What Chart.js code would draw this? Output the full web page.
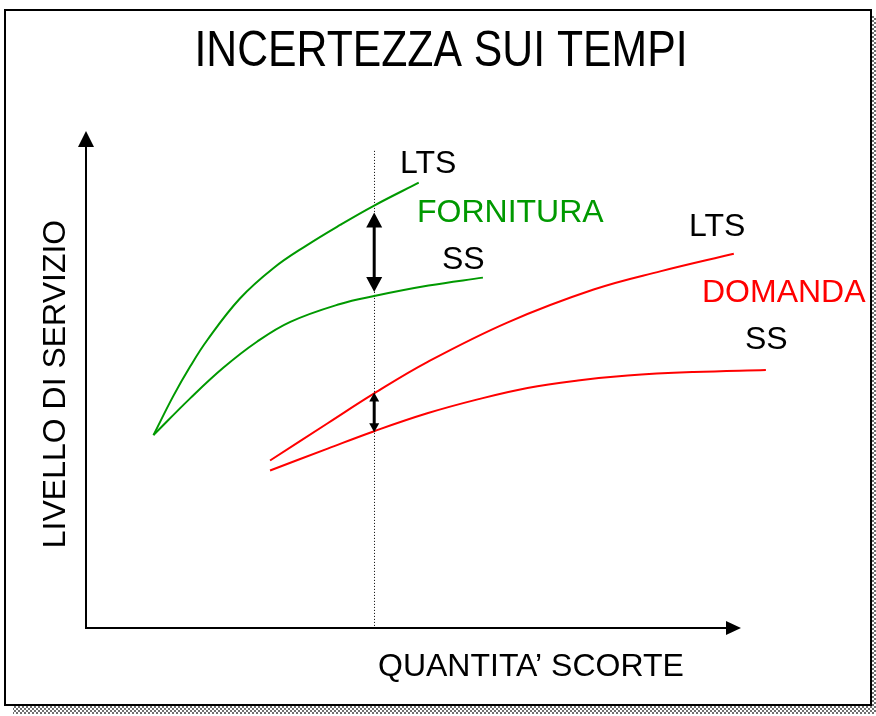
<!DOCTYPE html>
<html>
<head>
<meta charset="utf-8">
<title>Incertezza sui tempi</title>
<script src="https://cdn.jsdelivr.net/npm/chart.js@4.4.1/dist/chart.umd.min.js"></script>
<style>
    html, body { margin: 0; padding: 0; background: #fff; }
    #wrap { width: 876px; height: 716px; }
</style>
</head>
<body>
<div id="wrap"><canvas id="chart" width="876" height="716"></canvas></div>
<script>
// quantita' scorte (x) e livello di servizio (y), unita' arbitrarie 0-100
const fornituraLtsX = [10.3, 13.3, 15.9, 18.5, 23.5, 28.6, 33.7, 38.8, 44, 50.8];
const fornituraLtsY = [38.8, 46.6, 52.6, 57.9, 66.3, 72.4, 77.0, 81.1, 85.0, 89.6];

const fornituraSsX = [10.3, 15.9, 21.0, 26.1, 31.2, 38.8, 44, 52.3, 60.6];
const fornituraSsY = [38.8, 46.2, 52.4, 57.6, 61.6, 65.2, 66.8, 68.9, 70.5];

const domandaLtsX = [28.1, 36.9, 44, 52.1, 64.4, 77.5, 87.8, 98.9];
const domandaLtsY = [33.7, 41.2, 47.2, 53.5, 61.5, 68.1, 71.8, 75.3];

const domandaSsX = [28.1, 36.9, 44, 52.1, 59.8, 67.4, 75.1, 82.7, 92.8, 103.8];
const domandaSsY = [31.7, 36.1, 39.6, 43.2, 46.0, 48.3, 49.8, 50.8, 51.5, 51.9];

// quantita' di riferimento (linea punteggiata)
const markerX = 44;
const markerTop = 96;

const GREEN = '#009900';
const RED = '#ff0000';

const toPoints = (xs, ys) => xs.map((x, i) => ({ x: x, y: ys[i] }));

const curve = (label, xs, ys, color) => ({
    label: label,
    data: toPoints(xs, ys),
    borderColor: color,
    backgroundColor: color,
    borderWidth: 2,
    pointRadius: 0,
    tension: 0.4,
    clip: false,
    fill: false
});

// cornice con ombra a scacchi
const framePlugin = {
    id: 'frame',
    beforeDraw(chart) {
        const ctx = chart.ctx;
        const pc = document.createElement('canvas');
        pc.width = 4; pc.height = 4;
        const p = pc.getContext('2d');
        p.fillStyle = '#fff';
        p.fillRect(0, 0, 4, 4);
        p.fillStyle = '#707070';
        p.fillRect(0, 0, 2, 2);
        p.fillRect(2, 2, 2, 2);
        ctx.save();
        ctx.fillStyle = '#fff';
        ctx.fillRect(0, 0, chart.width, chart.height);
        ctx.fillStyle = ctx.createPattern(pc, 'repeat');
        ctx.fillRect(13, 16, 866, 698);
        ctx.fillStyle = '#fff';
        ctx.fillRect(5, 10, 866, 695);
        ctx.strokeStyle = '#000';
        ctx.lineWidth = 2;
        ctx.strokeRect(5, 10, 866, 695);
        ctx.restore();
    }
};

// assi con frecce e linea punteggiata
const axesPlugin = {
    id: 'axesArrows',
    beforeDatasetsDraw(chart) {
        const { ctx, chartArea: a, scales } = chart;
        ctx.save();
        ctx.strokeStyle = '#000';
        ctx.fillStyle = '#000';
        ctx.lineWidth = 2;
        ctx.beginPath();
        ctx.moveTo(a.left, a.top + 10);
        ctx.lineTo(a.left, a.bottom);
        ctx.lineTo(a.right - 10, a.bottom);
        ctx.stroke();
        ctx.beginPath();
        ctx.moveTo(a.left, a.top);
        ctx.lineTo(a.left - 8, a.top + 16);
        ctx.lineTo(a.left + 8, a.top + 16);
        ctx.closePath();
        ctx.fill();
        ctx.beginPath();
        ctx.moveTo(a.right, a.bottom);
        ctx.lineTo(a.right - 15, a.bottom - 7);
        ctx.lineTo(a.right - 15, a.bottom + 7);
        ctx.closePath();
        ctx.fill();

        const mx = Math.round(scales.x.getPixelForValue(markerX)) + 0.5;
        ctx.lineWidth = 1;
        ctx.setLineDash([1, 2]);
        ctx.beginPath();
        ctx.moveTo(mx, scales.y.getPixelForValue(markerTop));
        ctx.lineTo(mx, a.bottom);
        ctx.stroke();
        ctx.restore();
    }
};

const drawDoubleArrow = (ctx, x, y1, y2, head, half) => {
    ctx.beginPath();
    ctx.moveTo(x, y1 + head - 1);
    ctx.lineTo(x, y2 - head + 1);
    ctx.stroke();
    ctx.beginPath();
    ctx.moveTo(x, y1);
    ctx.lineTo(x - half, y1 + head);
    ctx.lineTo(x + half, y1 + head);
    ctx.closePath();
    ctx.fill();
    ctx.beginPath();
    ctx.moveTo(x, y2);
    ctx.lineTo(x - half, y2 - head);
    ctx.lineTo(x + half, y2 - head);
    ctx.closePath();
    ctx.fill();
};

// frecce tra LTS e SS alla quantita' di riferimento
const gapPlugin = {
    id: 'gapArrows',
    afterDatasetsDraw(chart) {
        const { ctx, scales } = chart;
        const yAt = (i) => chart.data.datasets[i].data.find(p => p.x === markerX).y;
        const mx = scales.x.getPixelForValue(markerX);
        ctx.save();
        ctx.strokeStyle = '#000';
        ctx.fillStyle = '#000';
        ctx.lineWidth = 3;
        drawDoubleArrow(ctx, mx, scales.y.getPixelForValue(yAt(0)) + 7, scales.y.getPixelForValue(yAt(1)) - 4, 15, 8);
        drawDoubleArrow(ctx, mx, scales.y.getPixelForValue(yAt(2)) - 1, scales.y.getPixelForValue(yAt(3)) + 1, 9, 5);
        ctx.restore();
    }
};

// titolo ed etichette
const labelsPlugin = {
    id: 'labels',
    afterDraw(chart) {
        const ctx = chart.ctx;
        ctx.save();
        ctx.textBaseline = 'alphabetic';

        ctx.font = '50px "Liberation Sans", Arial, sans-serif';
        ctx.fillStyle = '#000';
        ctx.textAlign = 'center';
        const title = 'INCERTEZZA SUI TEMPI';
        const sx = 493 / ctx.measureText(title).width;
        ctx.save();
        ctx.translate(441, 66);
        ctx.scale(sx, 1);
        ctx.fillText(title, 0, 0);
        ctx.restore();

        ctx.font = '32px "Liberation Sans", Arial, sans-serif';
        ctx.textAlign = 'left';
        const items = [
            ['LTS', 400, 173, '#000'],
            ['FORNITURA', 417, 222, GREEN],
            ['SS', 442, 269, '#000'],
            ['LTS', 689, 236, '#000'],
            ['DOMANDA', 702, 302, RED],
            ['SS', 745, 349, '#000'],
            ['QUANTITA\u2019 SCORTE', 378, 676, '#000']
        ];
        items.forEach(([t, x, y, c]) => {
            ctx.fillStyle = c;
            ctx.fillText(t, x, y);
        });

        ctx.fillStyle = '#000';
        ctx.textAlign = 'center';
        ctx.save();
        ctx.translate(65, 384);
        ctx.rotate(-Math.PI / 2);
        ctx.fillText('LIVELLO DI SERVIZIO', 0, 0);
        ctx.restore();
        ctx.restore();
    }
};

new Chart(document.getElementById('chart'), {
    type: 'line',
    data: {
        datasets: [
            curve('Fornitura LTS', fornituraLtsX, fornituraLtsY, GREEN),
            curve('Fornitura SS', fornituraSsX, fornituraSsY, GREEN),
            curve('Domanda LTS', domandaLtsX, domandaLtsY, RED),
            curve('Domanda SS', domandaSsX, domandaSsY, RED)
        ]
    },
    options: {
        responsive: false,
        animation: false,
        events: [],
        layout: { padding: { left: 86, top: 131, right: 135, bottom: 88 } },
        scales: {
            x: { type: 'linear', min: 0, max: 100, display: false },
            y: { type: 'linear', min: 0, max: 100, display: false }
        },
        plugins: {
            legend: { display: false },
            tooltip: { enabled: false },
            title: { display: false }
        }
    },
    plugins: [framePlugin, axesPlugin, gapPlugin, labelsPlugin]
});
</script>
</body>
</html>
